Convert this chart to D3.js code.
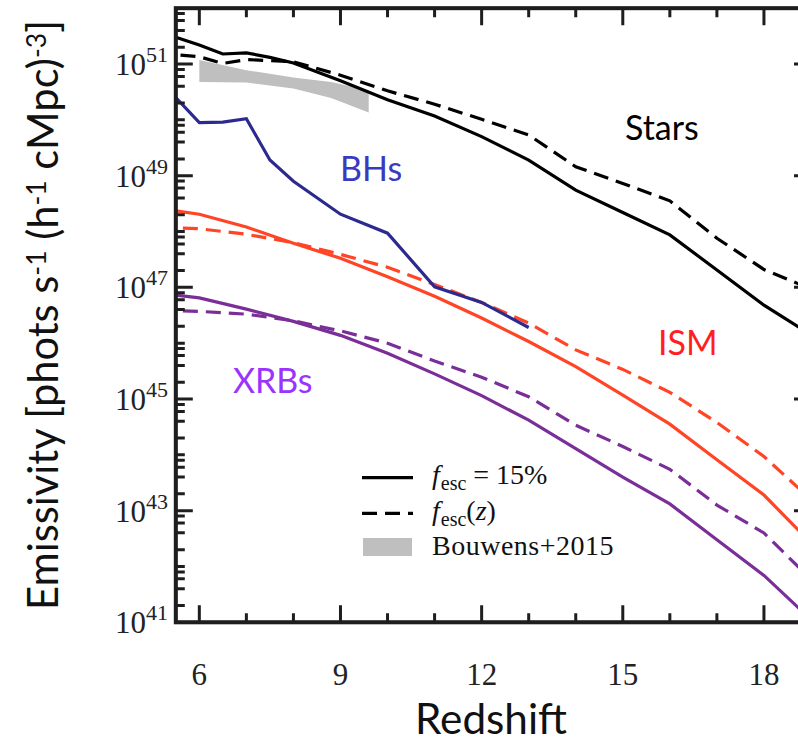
<!DOCTYPE html>
<html><head><meta charset="utf-8">
<script src="https://cdn.jsdelivr.net/npm/d3@7"></script>
<style>body{margin:0;background:#fff} svg{display:block}</style>
</head><body>
<svg id="chart" width="798" height="744"></svg>
<script>
// Redshift grid and log10 emissivity [phots s^-1 (h^-1 cMpc)^-3]
const starsZ      = [5.5, 6, 6.5, 7, 7.5, 8, 9, 10, 11, 12, 13, 14, 15, 16, 17, 18, 19];
const starsFixed  = [51.48, 51.34, 51.18, 51.20, 51.12, 51.02, 50.70, 50.36, 50.07, 49.70, 49.28, 48.74, 48.34, 47.94, 47.31, 46.68, 46.15];
const starsDashZ  = [5.6, 6, 6.5, 7, 8, 9, 10, 11, 12, 13, 14, 15, 16, 17, 18, 19];
const starsVar    = [51.16, 51.13, 51.01, 51.08, 51.04, 50.80, 50.52, 50.28, 50.01, 49.73, 49.16, 48.86, 48.55, 47.88, 47.32, 46.97];
const bhZ         = [5.5, 6, 6.5, 7, 7.5, 8, 9, 10, 11, 12, 13];
const bhs         = [50.40, 49.95, 49.96, 50.02, 49.28, 48.90, 48.31, 47.97, 47.01, 46.73, 46.28];
const ismZ        = [5.5, 6, 7, 8, 9, 10, 11, 12, 13, 14, 15, 16, 17, 18, 19];
const ismFixed    = [48.37, 48.31, 48.08, 47.79, 47.52, 47.19, 46.84, 46.45, 46.03, 45.58, 45.07, 44.55, 43.91, 43.28, 42.42];
const dashZ       = [5.65, 6, 7, 8, 9, 10, 11, 12, 13, 14, 15, 16, 17, 18, 19];
const ismVar      = [48.06, 48.05, 47.95, 47.80, 47.59, 47.36, 47.05, 46.73, 46.36, 45.88, 45.53, 45.12, 44.58, 43.97, 43.20];
const xrbFixed    = [46.86, 46.81, 46.61, 46.39, 46.14, 45.82, 45.45, 45.06, 44.62, 44.11, 43.60, 43.12, 42.48, 41.84, 41.05];
const xrbVar      = [46.58, 46.57, 46.52, 46.40, 46.22, 46.00, 45.68, 45.39, 45.04, 44.53, 44.15, 43.74, 43.10, 42.60, 41.77];
const bouwensZ    = [6, 7, 8, 8.8, 9.6];
const bouwensLo   = [50.68, 50.67, 50.56, 50.39, 50.13];
const bouwensHi   = [51.07, 50.89, 50.76, 50.68, 50.53];

const xMajor = [6, 9, 12, 15, 18];
const xMinor = [7, 8, 10, 11, 13, 14, 16, 17, 19];
const yLabelExp = [41, 43, 45, 47, 49, 51];

const svg = d3.select("#chart");
const X0 = 175.8, X1 = 811, Y0 = 622.3, Y1 = 8.2;
const x = d3.scaleLinear().domain([5.5, 19]).range([X0, X1]);
const y = d3.scaleLog().domain([1e41, 1e52]).range([Y0, Y1]);

const yMajor = yLabelExp.map(e => Math.pow(10, e));
const yMinor = [];
for (let e = 41; e <= 51; e++) {
  if (e % 2 === 0) yMinor.push(Math.pow(10, e));
  [2, 4, 6, 8].forEach(m => yMinor.push(m * Math.pow(10, e)));
}

svg.append("defs").append("clipPath").attr("id", "plotClip")
  .append("rect").attr("x", X0).attr("y", Y1).attr("width", X1 - X0).attr("height", Y0 - Y1);

const plot = svg.append("g").attr("clip-path", "url(#plotClip)");

// observational band
const band = bouwensZ.map((z, i) => ({z, lo: bouwensLo[i], hi: bouwensHi[i]}));
plot.append("path").datum(band)
  .attr("fill", "#bfbfbf")
  .attr("d", d3.area().x(d => x(d.z)).y0(d => y(Math.pow(10, d.lo))).y1(d => y(Math.pow(10, d.hi))));

const line = d3.line().x(d => x(d[0])).y(d => y(Math.pow(10, d[1])));
const series = [
  {z: starsZ, v: starsFixed, color: "#000000", dash: null},
  {z: starsDashZ, v: starsVar, color: "#000000", dash: "15,8"},
  {z: ismZ, v: ismFixed, color: "#ff4526", dash: null},
  {z: dashZ, v: ismVar, color: "#ff4526", dash: "15,8"},
  {z: ismZ, v: xrbFixed, color: "#7a2e98", dash: null},
  {z: dashZ, v: xrbVar, color: "#7a2e98", dash: "15,8"},
  {z: bhZ, v: bhs, color: "#2d2a8f", dash: null}
];
series.forEach(s => {
  plot.append("path").datum(s.z.map((z, i) => [z, s.v[i]]))
    .attr("fill", "none").attr("stroke", s.color).attr("stroke-width", 3.2)
    .attr("stroke-dasharray", s.dash)
    .attr("d", line);
});

// frame outline and inward ticks, drawn together as one stroked outline
const axisColor = "#1e1e1e";
const outline = d3.path();
outline.moveTo(X0, Y1); outline.lineTo(X1, Y1); outline.lineTo(X1, Y0); outline.lineTo(X0, Y0); outline.closePath();
function xTickMarks(vals, size) {
  vals.forEach(v => {
    const px = x(v);
    outline.moveTo(px, Y0); outline.lineTo(px, Y0 - size);
    outline.moveTo(px, Y1); outline.lineTo(px, Y1 + size);
  });
}
function yTickMarks(vals, size) {
  vals.forEach(v => {
    const py = y(v);
    outline.moveTo(X0, py); outline.lineTo(X0 + size, py);
    outline.moveTo(X1, py); outline.lineTo(X1 - size, py);
  });
}
xTickMarks(xMajor, 17); xTickMarks(xMinor, 9);
yTickMarks(yMajor, 17); yTickMarks(yMinor, 9);
svg.append("path").attr("d", outline.toString())
  .attr("fill", "none").attr("stroke", axisColor).attr("stroke-width", 3);
svg.append("rect").attr("x", X0).attr("y", Y1).attr("width", X1 - X0).attr("height", Y0 - Y1)
  .attr("fill", "none").attr("stroke", axisColor).attr("stroke-width", 4);

// tick labels
const serif = "'Liberation Serif', 'DejaVu Serif', serif";
svg.append("g").selectAll("text").data(xMajor).join("text")
  .attr("x", d => x(d)).attr("y", 685)
  .attr("text-anchor", "middle").attr("font-family", serif).attr("font-size", 31).attr("fill", "#222")
  .text(d => d);
const yl = svg.append("g").selectAll("text").data(yLabelExp).join("text")
  .attr("x", 168).attr("y", d => y(Math.pow(10, d)) + 11)
  .attr("text-anchor", "end").attr("font-family", serif).attr("font-size", 31).attr("fill", "#222");
yl.append("tspan").text("10");
yl.append("tspan").attr("font-size", 22).attr("dy", -13).text(d => d);

// axis titles
const sans = "Lato, 'Open Sans', sans-serif";
const yt = svg.append("text").attr("transform", "translate(58,315) rotate(-90)")
  .attr("text-anchor", "middle").attr("font-family", sans).attr("font-size", 33).attr("fill", "#111");
yt.append("tspan").text("Emissivity [phots s");
yt.append("tspan").attr("font-size", 21).attr("dy", -12).text("-1");
yt.append("tspan").attr("dy", 12).text(" (h");
yt.append("tspan").attr("font-size", 21).attr("dy", -12).text("-1");
yt.append("tspan").attr("dy", 12).text(" cMpc)");
yt.append("tspan").attr("font-size", 21).attr("dy", -12).text("-3");
yt.append("tspan").attr("dy", 12).text("]");
let k = 1;
const titleLen = yt.node().getComputedTextLength();
if (titleLen > 0) {
  k = 590 / titleLen;
  yt.attr("font-size", 33 * k);
  yt.selectAll("tspan").filter(function(){ return this.getAttribute("font-size"); }).attr("font-size", 21 * k);
}
const xt = svg.append("text").attr("x", 491).attr("y", 734).attr("text-anchor", "middle")
  .attr("font-family", sans).attr("font-size", 33 * k).attr("fill", "#111").text("Redshift");
const xl = xt.node().getComputedTextLength();
if (xl > 0) xt.attr("font-size", 33 * k * 152 / xl);

// component labels
const labels = [
  {t: "Stars", x: 625, y: 140, c: "#000000"},
  {t: "BHs", x: 340, y: 181, c: "#3a3ac0"},
  {t: "ISM", x: 658, y: 355, c: "#ff1f1f"},
  {t: "XRBs", x: 233, y: 393, c: "#9b33ff"}
];
svg.append("g").selectAll("text").data(labels).join("text")
  .attr("x", d => d.x).attr("y", d => d.y).attr("fill", d => d.c)
  .attr("font-family", sans).attr("font-size", 34).text(d => d.t);

// legend
const lg = svg.append("g");
lg.append("line").attr("x1", 362).attr("x2", 413).attr("y1", 477.7).attr("y2", 477.7)
  .attr("stroke", "#000").attr("stroke-width", 3.2);
lg.append("line").attr("x1", 362).attr("x2", 413).attr("y1", 513.3).attr("y2", 513.3)
  .attr("stroke", "#000").attr("stroke-width", 3.2).attr("stroke-dasharray", "15,8");
lg.append("rect").attr("x", 363).attr("y", 538).attr("width", 49).attr("height", 18).attr("fill", "#bfbfbf");
const lt = lg.append("g").attr("font-family", serif).attr("font-size", 28).attr("fill", "#111");
const t1 = lt.append("text").attr("x", 432).attr("y", 484);
t1.append("tspan").attr("font-style", "italic").text("f");
t1.append("tspan").attr("font-size", 20).attr("dy", 6).attr("dx", 1).text("esc");
t1.append("tspan").attr("dy", -6).text(" = 15%");
const t2 = lt.append("text").attr("x", 432).attr("y", 520);
t2.append("tspan").attr("font-style", "italic").text("f");
t2.append("tspan").attr("font-size", 20).attr("dy", 6).attr("dx", 1).text("esc");
t2.append("tspan").attr("dy", -6).text("(");
t2.append("tspan").attr("font-style", "italic").text("z");
t2.append("tspan").text(")");
lt.append("text").attr("x", 432).attr("y", 555).attr("letter-spacing", 0.5).text("Bouwens+2015");
</script>
</body></html>
